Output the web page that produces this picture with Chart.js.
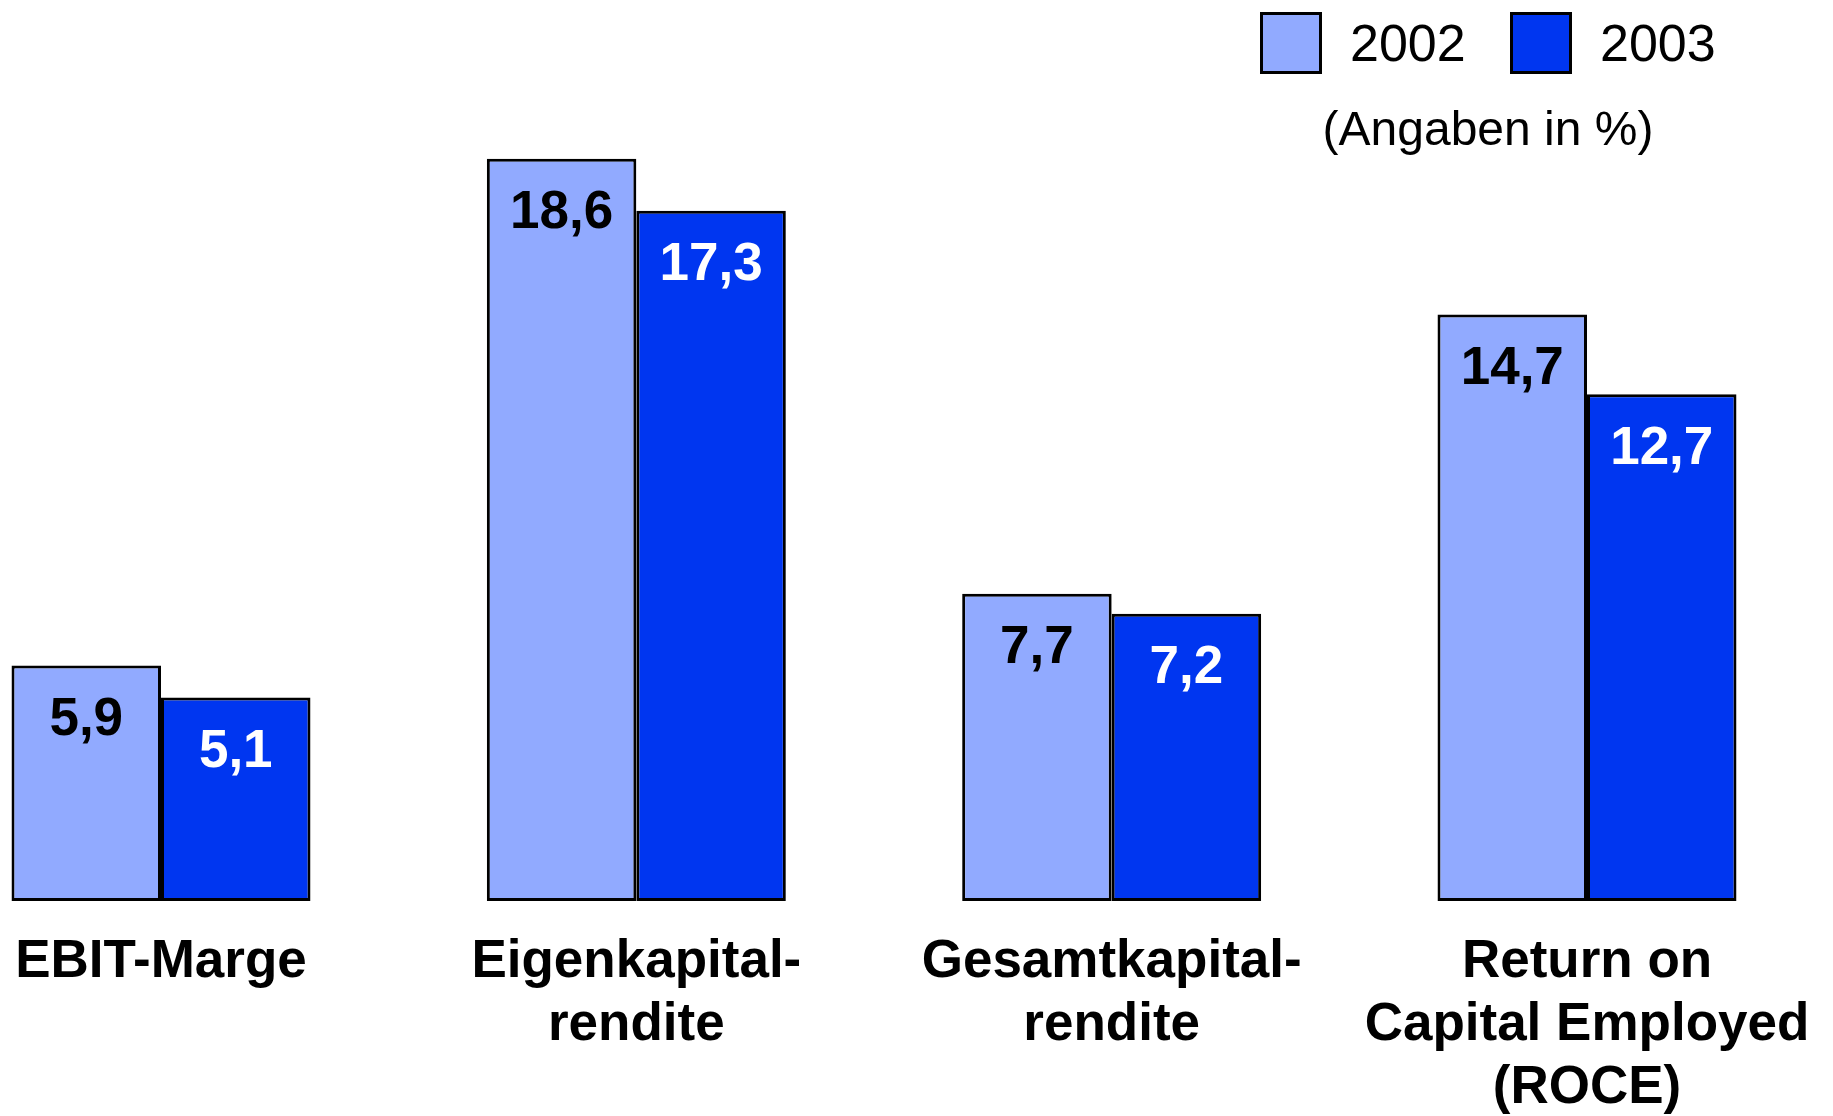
<!DOCTYPE html>
<html lang="de">
<head>
<meta charset="utf-8">
<title>Kennzahlen 2002 / 2003</title>
<script src="https://cdn.jsdelivr.net/npm/chart.js@4.4.1/dist/chart.umd.min.js"></script>
<style>
  html, body { margin: 0; padding: 0; background: #ffffff; }
  #wrap { position: relative; width: 1833px; height: 1116px; }
</style>
</head>
<body>
<div id="wrap"><canvas id="chart" width="1833" height="1116"></canvas></div>
<script>
// Daten
const kategorien = [
    ["EBIT-Marge"],
    ["Eigenkapital-", "rendite"],
    ["Gesamtkapital-", "rendite"],
    ["Return on", "Capital Employed", "(ROCE)"]
];
const werte2002 = [5.9, 18.6, 7.7, 14.7];
const werte2003 = [5.1, 17.3, 7.2, 12.7];
const jahre = ["2002", "2003"];

const farbeHell = "#91aaff";
const farbeDunkel = "#0036f0";
const schrift = "'Liberation Sans', Arial, sans-serif";

// Zahlen im deutschen Format (Komma)
function formatiere(v) {
    return v.toLocaleString("de-DE", { minimumFractionDigits: 1, maximumFractionDigits: 1 });
}

// Werte in die Balken schreiben
const wertePlugin = {
    id: "werte",
    afterDatasetsDraw(chart) {
        const ctx = chart.ctx;
        ctx.save();
        ctx.font = "bold 53px " + schrift;
        ctx.textAlign = "center";
        ctx.textBaseline = "middle";
        chart.data.datasets.forEach((ds, i) => {
            const meta = chart.getDatasetMeta(i);
            ctx.fillStyle = i === 0 ? "#000000" : "#ffffff";
            meta.data.forEach((bar, j) => {
                ctx.fillText(formatiere(ds.data[j]), bar.x, bar.y + 55);
            });
        });
        ctx.restore();
    }
};

// Legende oben rechts plus Hinweis
const legendePlugin = {
    id: "legende",
    afterDraw(chart) {
        const ctx = chart.ctx;
        ctx.save();
        const boxen = [1260, 1510];
        chart.data.datasets.forEach((ds, i) => {
            ctx.fillStyle = ds.backgroundColor;
            ctx.fillRect(boxen[i], 12, 62, 62);
            ctx.lineWidth = 3;
            ctx.strokeStyle = "#000000";
            ctx.strokeRect(boxen[i] + 1.5, 13.5, 59, 59);
            ctx.fillStyle = "#000000";
            ctx.font = "52px " + schrift;
            ctx.textAlign = "left";
            ctx.textBaseline = "middle";
            ctx.fillText(ds.label, boxen[i] + 90, 47);
        });
        ctx.font = "48px " + schrift;
        ctx.textAlign = "center";
        ctx.fillText("(Angaben in %)", 1488, 132);
        ctx.restore();
    }
};

const ctx = document.getElementById("chart").getContext("2d");

new Chart(ctx, {
    type: "bar",
    data: {
        labels: kategorien,
        datasets: [
            {
                label: jahre[0],
                data: werte2002,
                backgroundColor: farbeHell,
                borderColor: "#000000",
                borderWidth: 3,
                borderSkipped: false,
                clip: false
            },
            {
                label: jahre[1],
                data: werte2003,
                backgroundColor: farbeDunkel,
                borderColor: "#000000",
                borderWidth: 3,
                borderSkipped: false,
                clip: false
            }
        ]
    },
    options: {
        responsive: false,
        animation: false,
        devicePixelRatio: 1,
        categoryPercentage: 0.629,
        barPercentage: 1,
        layout: {
            padding: { left: 161, right: 246, top: 103, bottom: 0 }
        },
        plugins: {
            legend: { display: false },
            tooltip: { enabled: false }
        },
        scales: {
            x: {
                offset: false,
                grid: { display: false, drawTicks: false },
                border: { display: false },
                ticks: {
                    color: "#000000",
                    padding: 30,
                    maxRotation: 0,
                    autoSkip: false,
                    font: { family: schrift, size: 53, weight: "bold", lineHeight: 1.19 }
                },
                // feste Höhe der Achse, keine automatische Randpolsterung
                afterFit(scale) {
                    scale.height = 215;
                    scale.paddingLeft = 0;
                    scale.paddingRight = 0;
                }
            },
            y: {
                display: false,
                min: 0,
                max: 20
            }
        }
    },
    plugins: [wertePlugin, legendePlugin]
});
</script>
</body>
</html>
